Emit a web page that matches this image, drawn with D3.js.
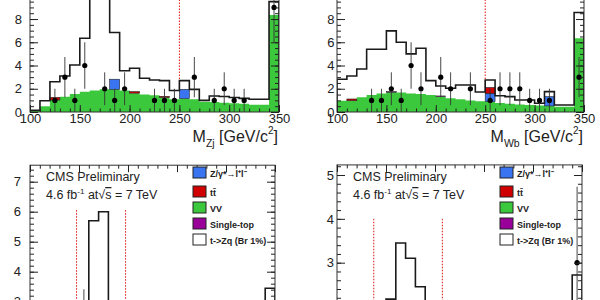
<!DOCTYPE html>
<html>
<head>
<meta charset="utf-8">
<script src="https://cdn.jsdelivr.net/npm/d3@7"></script>
<style>
  body { margin: 0; background: #fff; }
  svg { display: block; }
  text { font-family: "Liberation Sans", Arial, Helvetica, sans-serif; }
</style>
</head>
<body>
<svg id="chart" width="600" height="300"></svg>
<script>
// bins (lower edges, GeV/c^2)
var binLow = [100, 110, 120, 130, 140, 150, 160, 170, 180, 190, 200, 210, 220, 230, 240,
              250, 260, 270, 280, 290, 300, 310, 320, 330, 340];
var binWidth = 10;

// M_Zj (top left)
var zjVV    = [0.1, 0.5, 1.03, 1.32, 1.55, 1.75, 1.85, 1.95, 1.95, 1.85, 1.62, 1.5, 1.45, 1.25, 1.1,
               1.15, 1.1, 0.88, 0.87, 0.8, 0.75, 0.7, 0.63, 0.63, 8.35];
var zjZ     = [0, 0, 0, 0, 0, 0, 0, 0, 0.87, 0, 0, 0, 0, 0, 0, 0.8, 0, 0, 0, 0, 0, 0, 0, 0, 0];
var zjTT    = [0, 0, 0.23, 0, 0, 0, 0, 0, 0, 0, 0.13, 0, 0, 0.1, 0, 0, 0, 0, 0, 0, 0, 0, 0, 0, 0];
var zjST    = [0, 0, 0, 0, 0, 0, 0, 0, 0, 0, 0, 0, 0, 0, 0, 0, 0, 0, 0, 0, 0, 0, 0, 0, 0];
var zjTotal = [0.15, 0.97, 2.6, 3.1, 4.05, 6.35, 12, 13, 6.84, 3.55, 3.77, 2.9, 2.75, 2.7, 1.85,
               2.7, 1.95, 1.0, 1.38, 1.33, 1.25, 1.17, 1.1, 1.1, 9.5];
var zjData  = [0, 0, 1, 3, 1, 4, 0, 2, 1, 2, 0, 0, 1, 1, 1, 0, 3, 0, 1, 2, 1, 1, 0, 0, 9];

// M_Wb (top right)
var wbVV    = [0.97, 0.97, 1.27, 1.47, 1.6, 1.7, 1.67, 1.6, 1.55, 1.47, 1.33, 1.18, 1.1, 1.0, 0.92,
               0.89, 0.77, 0.72, 0.65, 0.6, 0.57, 0.52, 0.46, 0.46, 6.35];
var wbZ     = [0, 0, 0, 0, 0, 0, 0, 0, 0, 0, 0, 0, 0, 0, 0, 0.72, 0, 0, 0, 0, 0, 0.8, 0, 0, 0];
var wbTT    = [0, 0.15, 0, 0, 0, 0, 0, 0, 0, 0, 0, 0, 0, 0, 0, 0.5, 0, 0, 0, 0, 0, 0, 0, 0, 0];
var wbST    = [0, 0, 0, 0, 0, 0.05, 0, 0, 0, 0, 0.05, 0, 0, 0, 0, 0, 0, 0, 0, 0, 0, 0, 0, 0, 0];
var wbTotal = [2.82, 3.1, 3.7, 5.4, 5.4, 6.98, 6.0, 5.0, 5.49, 2.7, 2.24, 2.04, 2.33, 2.33, 1.72,
               2.76, 1.4, 1.32, 1.03, 1.03, 0.75, 1.75, 0.6, 0.6, 8.56];
var wbData  = [0, 0, 0, 1, 1, 2, 1, 4, 2, 0, 3, 2, 0, 2, 0, 1, 2, 2, 2, 1, 1, 1, 0, 0, 3];

// signal-window plots (bottom row), only the upper part is in view
var zjWinTotal = [0.1, 0.3, 0.8, 1.4, 2.0, 2.9, 5.7, 6.0, 2.8, 1.5, 1.0, 0.7, 0.5, 0.4, 0.4,
                  0.5, 0.4, 0.3, 0.3, 0.3, 0.2, 0.2, 0.2, 0.2, 3.45];
var zjWinData  = [0, 0, 0, 0, 0, 2, 0, 0, 0, 0, 0, 0, 0, 0, 0, 0, 0, 0, 0, 0, 0, 0, 0, 0, 0];
var wbWinTotal = [0.1, 0.3, 0.6, 1.0, 1.5, 2.17, 3.45, 3.1, 2.45, 1.6, 1.0, 0.7, 0.5, 0.4, 0.4,
                  0.5, 0.4, 0.3, 0.3, 0.3, 0.2, 0.2, 0.2, 0.2, 2.72];
var wbWinData  = [0, 0, 0, 0, 0, 0, 0, 0, 0, 0, 0, 0, 0, 0, 0, 0, 0, 0, 0, 0, 0, 0, 0, 0, 3];

// cut lines
var zjCut = [250], wbCut = [250];
var zjWindow = [147.5, 197.5], wbWindow = [137.5, 207.5];

// tick labels
var massTicks = [100, 150, 200, 250, 300, 350];
var topYTicks = [0, 2, 4, 6, 8, 10];
var zjWinYTicks = [3, 4, 5, 6, 7];
var wbWinYTicks = [2, 3, 4, 5];

var legendLabels = ['Z/\u03b3*\u2192l\u207al\u207b', 'tt\u0304', 'VV', 'Single-top', 't->Zq (Br 1%)'];

var colors = { vv: '#3cc83c', z: '#3a74f0', tt: '#d00000', st: '#990099' };

var svg = d3.select('#chart');
var defs = svg.append('defs');

function stepPts(vals) {
  var pts = [[binLow[0], 0]];
  vals.forEach(function(v, i) {
    pts.push([binLow[i], v], [binLow[i] + binWidth, v]);
  });
  pts.push([binLow[binLow.length - 1] + binWidth, 0]);
  return pts;
}

function drawPanel(p) {
  var x = d3.scaleLinear().domain([100, 350]).range([p.left, p.right]);
  var y = d3.scaleLinear().domain([0, p.ymax]).range([p.zero, p.zero - p.ppu * p.ymax]);
  var top = y(p.ymax);

  defs.append('clipPath').attr('id', 'clip-' + p.id)
    .append('rect')
    .attr('x', p.left).attr('y', top)
    .attr('width', p.right - p.left).attr('height', p.zero - top);

  var g = svg.append('g');
  var inner = g.append('g').attr('clip-path', 'url(#clip-' + p.id + ')');

  // red dotted cut lines
  inner.selectAll('line.cut')
    .data(p.cuts)
    .enter().append('line')
    .attr('x1', function(d) { return x(d); })
    .attr('x2', function(d) { return x(d); })
    .attr('y1', y(0))
    .attr('y2', y(p.cutTop))
    .attr('stroke', '#e01010')
    .attr('stroke-width', 1)
    .attr('stroke-dasharray', '1.5,1.5');

  var line = d3.line().x(function(d) { return x(d[0]); }).y(function(d) { return y(d[1]); });
  var area = d3.area().x(function(d) { return x(d[0]); }).y0(y(0)).y1(function(d) { return y(d[1]); });

  // signal (white) up to the total
  inner.append('path').attr('d', area(stepPts(p.total))).attr('fill', '#fff');

  // backgrounds
  if (p.vv) {
    inner.append('path').attr('d', area(stepPts(p.vv))).attr('fill', colors.vv);
    var base = p.vv.slice();
    [[p.z, colors.z], [p.tt, colors.tt], [p.st, colors.st]].forEach(function(c) {
      var vals = c[0];
      var rows = vals.map(function(v, i) { return { i: i, lo: base[i], hi: base[i] + v }; })
        .filter(function(d) { return d.hi > d.lo; });
      inner.selectAll(null)
        .data(rows)
        .enter().append('rect')
        .attr('x', function(d) { return x(binLow[d.i]); })
        .attr('width', function(d) { return x(binLow[d.i] + binWidth) - x(binLow[d.i]); })
        .attr('y', function(d) { return y(d.hi); })
        .attr('height', function(d) { return y(d.lo) - y(d.hi); })
        .attr('fill', c[1])
        .attr('stroke', '#222')
        .attr('stroke-width', 0.6);
      vals.forEach(function(v, i) { base[i] += v; });
    });
  }

  // total outline
  inner.append('path')
    .attr('d', line(stepPts(p.total)))
    .attr('fill', 'none')
    .attr('stroke', '#1a1a1a')
    .attr('stroke-width', 1.6);

  // data points with sqrt(n) errors
  var pts = p.data.map(function(n, i) { return { c: binLow[i] + binWidth / 2, n: n }; })
    .filter(function(d) { return d.n > 0; });
  inner.selectAll('line.err')
    .data(pts)
    .enter().append('line')
    .attr('x1', function(d) { return x(d.c); })
    .attr('x2', function(d) { return x(d.c); })
    .attr('y1', function(d) { return y(d.n - Math.sqrt(d.n)); })
    .attr('y2', function(d) { return y(d.n + Math.sqrt(d.n)); })
    .attr('stroke', '#333')
    .attr('stroke-width', 0.9);
  inner.selectAll('circle')
    .data(pts)
    .enter().append('circle')
    .attr('cx', function(d) { return x(d.c); })
    .attr('cy', function(d) { return y(d.n); })
    .attr('r', 2.6)
    .attr('fill', '#000');

  // frame
  g.append('rect')
    .attr('x', p.left).attr('y', top)
    .attr('width', p.right - p.left).attr('height', p.zero - top)
    .attr('fill', 'none').attr('stroke', '#333').attr('stroke-width', 1);

  var minorX = d3.range(100, 351, 10);
  var minorY = d3.range(0, p.ymax + 1e-6, p.yMinor);

  function styleAxis(sel) {
    sel.select('.domain').remove();
    sel.attr('color', '#222').attr('font-size', 13)
      .attr('font-family', '"Liberation Sans", Arial, Helvetica, sans-serif');
    sel.selectAll('text').attr('fill', '#222');
  }

  // x axes
  g.append('g').attr('transform', 'translate(0,' + p.zero + ')')
    .call(d3.axisBottom(x).tickValues(massTicks).tickSize(-7).tickPadding(2).tickFormat(d3.format('d')))
    .call(styleAxis);
  g.append('g').attr('transform', 'translate(0,' + p.zero + ')')
    .call(d3.axisBottom(x).tickValues(minorX).tickSize(-3.5).tickFormat(''))
    .call(styleAxis);
  g.append('g').attr('transform', 'translate(0,' + top + ')')
    .call(d3.axisTop(x).tickValues(massTicks).tickSize(-7).tickFormat(''))
    .call(styleAxis);
  g.append('g').attr('transform', 'translate(0,' + top + ')')
    .call(d3.axisTop(x).tickValues(minorX).tickSize(-3.5).tickFormat(''))
    .call(styleAxis);

  // y axes
  g.append('g').attr('transform', 'translate(' + p.left + ',0)')
    .call(d3.axisLeft(y).tickValues(p.yTicks).tickSize(-8).tickPadding(p.labelPad).tickFormat(d3.format('d')))
    .call(styleAxis);
  g.append('g').attr('transform', 'translate(' + p.left + ',0)')
    .call(d3.axisLeft(y).tickValues(minorY).tickSize(-4).tickFormat(''))
    .call(styleAxis);
  g.append('g').attr('transform', 'translate(' + p.right + ',0)')
    .call(d3.axisRight(y).tickValues(p.yTicks).tickSize(-8).tickFormat(''))
    .call(styleAxis);
  g.append('g').attr('transform', 'translate(' + p.right + ',0)')
    .call(d3.axisRight(y).tickValues(minorY).tickSize(-4).tickFormat(''))
    .call(styleAxis);

  // x title
  if (p.sub) {
    var t = g.append('text')
      .attr('x', p.right - 1).attr('y', p.zero + 30)
      .attr('text-anchor', 'end').attr('font-size', 16).attr('fill', '#222');
    t.append('tspan').text('M');
    t.append('tspan').attr('font-size', 10.5).attr('dy', 5).text(p.sub);
    t.append('tspan').attr('dy', -5).text(' [GeV/c');
    t.append('tspan').attr('font-size', 10).attr('dy', -8).text('2');
    t.append('tspan').attr('dy', 8).text(']');
  }

  // CMS label and legend
  if (p.legend) {
    g.append('text').attr('x', p.left + 16).attr('y', 181)
      .attr('font-size', 12.5).attr('fill', '#222').text('CMS Preliminary');
    var l2 = g.append('text').attr('x', p.left + 16).attr('y', 199)
      .attr('font-size', 12.5).attr('fill', '#222');
    l2.append('tspan').text('4.6 fb');
    l2.append('tspan').attr('font-size', 8).attr('dy', -5).text('-1');
    l2.append('tspan').attr('dy', 5).text(' at\u221a');
    l2.append('tspan').style('text-decoration', 'overline').text('s');
    l2.append('tspan').text(' = 7 TeV');

    var legFill = [colors.z, colors.tt, colors.vv, colors.st, '#fff'];
    var rowTop = [167, 186, 202, 218, 234];
    var leg = g.selectAll('g.leg')
      .data(legendLabels)
      .enter().append('g');
    leg.append('rect')
      .attr('x', p.legX).attr('y', function(d, i) { return rowTop[i]; })
      .attr('width', 13).attr('height', 11)
      .attr('fill', function(d, i) { return legFill[i]; })
      .attr('stroke', '#222').attr('stroke-width', 1);
    leg.append('text')
      .attr('x', p.legX + 17).attr('y', function(d, i) { return rowTop[i] + 9.5; })
      .attr('font-size', 9).attr('font-weight', 'bold').attr('fill', '#222')
      .text(function(d) { return d; });
  }
}

var panels = [
  { id: 'tl', left: 30, right: 279, zero: 112, ppu: 11.62, ymax: 10.5, yMinor: 0.5,
    yTicks: topYTicks, labelPad: 8, cuts: zjCut, cutTop: 12,
    vv: zjVV, z: zjZ, tt: zjTT, st: zjST, total: zjTotal, data: zjData, sub: 'Zj' },
  { id: 'tr', left: 337, right: 584, zero: 112, ppu: 11.62, ymax: 10.5, yMinor: 0.5,
    yTicks: topYTicks, labelPad: 2.5, cuts: wbCut, cutTop: 12,
    vv: wbVV, z: wbZ, tt: wbTT, st: wbST, total: wbTotal, data: wbData, sub: 'Wb' },
  { id: 'bl', left: 30, right: 275, zero: 391.7, ppu: 30, ymax: 7.55, yMinor: 0.2,
    yTicks: zjWinYTicks, labelPad: 9, cuts: zjWindow, cutTop: 6.05,
    total: zjWinTotal, data: zjWinData, legend: true, legX: 193 },
  { id: 'br', left: 337, right: 582, zero: 394.25, ppu: 43.85, ymax: 5.23, yMinor: 0.2,
    yTicks: wbWinYTicks, labelPad: 3, cuts: wbWindow, cutTop: 4.0,
    total: wbWinTotal, data: wbWinData, legend: true, legX: 500 }
];

panels.forEach(drawPanel);
</script>
</body>
</html>
